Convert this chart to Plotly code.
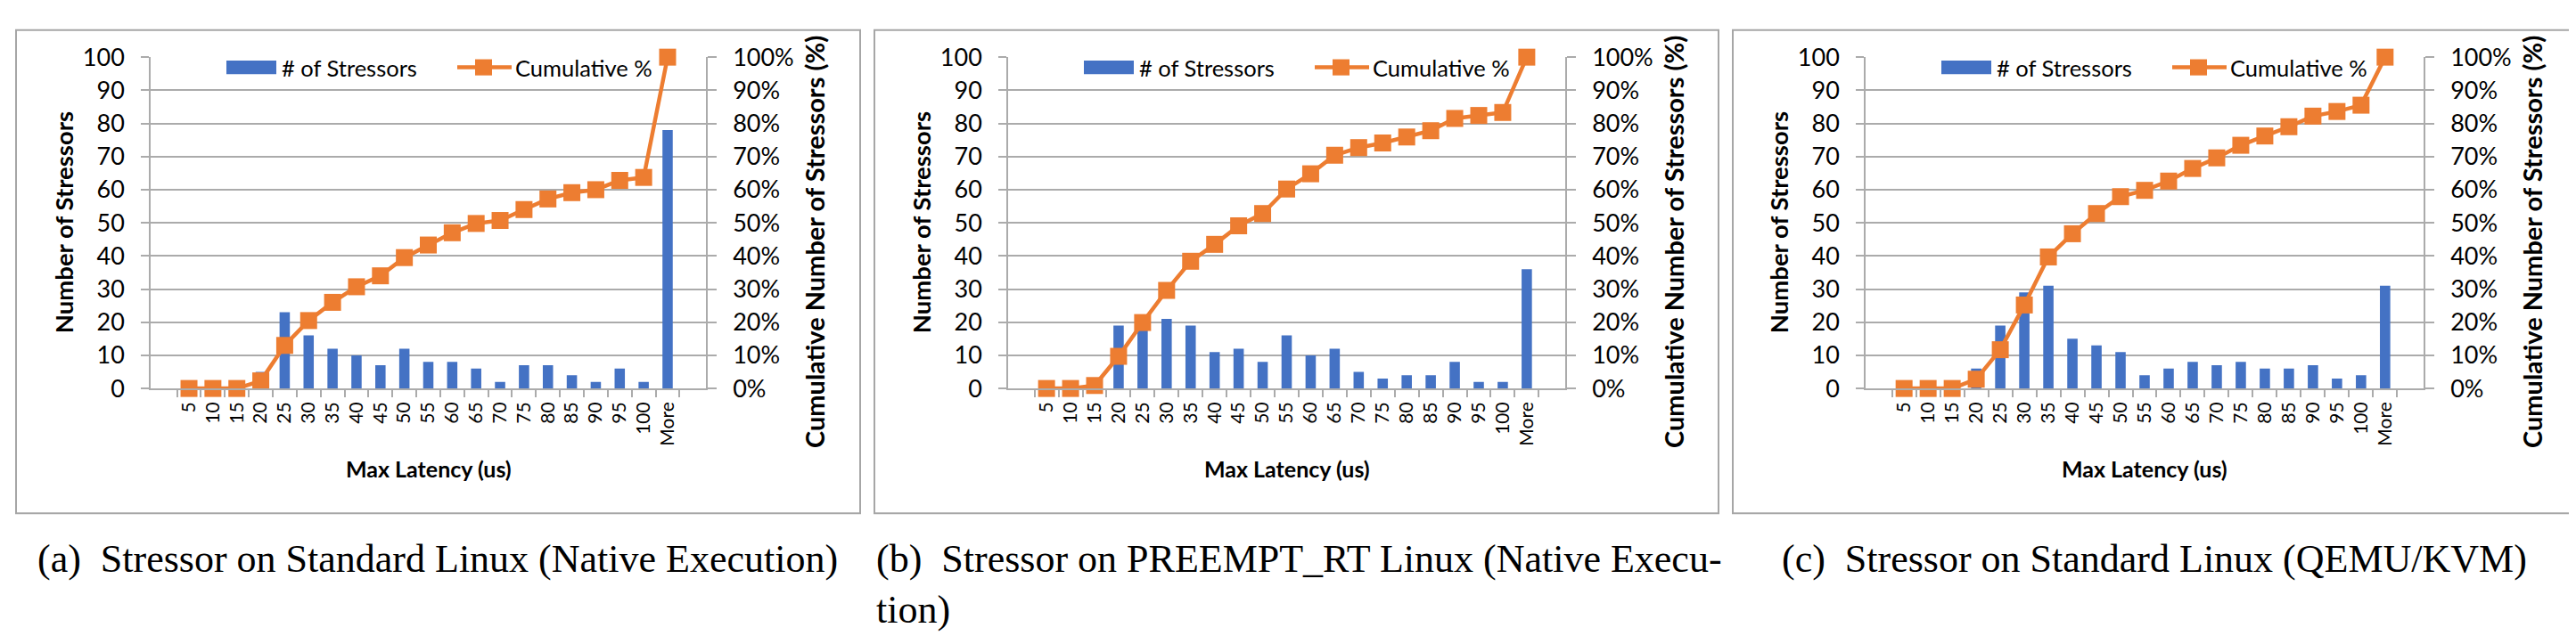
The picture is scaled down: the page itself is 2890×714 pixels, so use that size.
import plotly.graph_objects as go

# ---------------- data ----------------
categories = ["5", "10", "15", "20", "25", "30", "35", "40", "45", "50", "55",
              "60", "65", "70", "75", "80", "85", "90", "95", "100", "More"]

a_counts = [0, 0, 0, 5, 23, 16, 12, 10, 7, 12, 8, 8, 6, 2, 7, 7, 4, 2, 6, 2, 78]
a_cum = [0, 0, 0, 2.3, 13.0, 20.5, 26.0, 30.7, 34.0, 39.5, 43.3, 47.0, 49.8,
         50.7, 54.0, 57.2, 59.1, 60.0, 62.8, 63.7, 100]

b_counts = [0, 0, 2, 19, 22, 21, 19, 11, 12, 8, 16, 10, 12, 5, 3, 4, 4, 8, 2, 2, 36]
b_cum = [0, 0, 0.9, 9.7, 19.9, 29.6, 38.4, 43.5, 49.1, 52.8, 60.2, 64.8, 70.4,
         72.7, 74.1, 75.9, 77.8, 81.5, 82.4, 83.3, 100]

c_counts = [0, 0, 0, 6, 19, 29, 31, 15, 13, 11, 4, 6, 8, 7, 8, 6, 6, 7, 3, 4, 31]
c_cum = [0, 0, 0, 2.8, 11.7, 25.2, 39.7, 46.7, 52.8, 57.9, 59.8, 62.6, 66.4,
         69.6, 73.4, 76.2, 79.0, 82.2, 83.6, 85.5, 100]

y_ticks = [0, 10, 20, 30, 40, 50, 60, 70, 80, 90, 100]
y_ticktext = ["0", "10", "20", "30", "40", "50", "60", "70", "80", "90", "100"]
y2_ticktext = ["0%", "10%", "20%", "30%", "40%", "50%", "60%", "70%", "80%", "90%", "100%"]
bar_name = "# of Stressors"
line_name = "Cumulative %"
x_title = "Max Latency (us)"
y_title = "Number of Stressors"
y2_title = "Cumulative Number of Stressors (%)"
captions = [
    "(a)\u00a0\u00a0Stressor on Standard Linux (Native Execution)",
    "(b)\u00a0\u00a0Stressor on PREEMPT_RT Linux (Native Execu-<br>tion)",
    "(c)\u00a0\u00a0Stressor on Standard Linux (QEMU/KVM)",
]

# ---------------- style / layout ----------------
W, H = 2890, 714
BLUE = "#4472C4"
ORANGE = "#ED7D31"
GRID = "#ABABAB"
BORDER = "#A6A6A6"
FONT = "Lato"
SERIF = "Liberation Serif"


def px(x):
    return x / W


def py(y):
    return 1 - y / H


PLOT_TOP, PLOT_BOT = 40, 430
panels = [
    dict(counts=a_counts, cum=a_cum, box=(10, 957), plot=(161, 784)),
    dict(counts=b_counts, cum=b_cum, box=(973, 1920), plot=(1123, 1748)),
    dict(counts=c_counts, cum=c_cum, box=(1936, 2882), plot=(2085, 2711)),
]

fig = go.Figure()
layout = dict(
    width=W, height=H,
    margin=dict(l=0, r=0, t=0, b=0),
    paper_bgcolor="white", plot_bgcolor="white",
    bargap=0.57,
    showlegend=False,
    font=dict(family=FONT, color="black"),
    shapes=[], annotations=[],
)

for i, p in enumerate(panels):
    n = i + 1
    xk = "x" if n == 1 else f"x{n}"
    yl = "y" if n == 1 else f"y{2 * n - 1}"
    yr = f"y{2 * n}"
    xname = "xaxis" if n == 1 else f"xaxis{n}"
    ylname = "yaxis" if n == 1 else f"yaxis{2 * n - 1}"
    yrname = f"yaxis{2 * n}"

    fig.add_trace(go.Bar(x=categories, y=p["counts"], name=bar_name,
                         xaxis=xk, yaxis=yl, marker=dict(color=BLUE, line=dict(width=0))))
    fig.add_trace(go.Scatter(x=categories, y=p["cum"], name=line_name,
                             xaxis=xk, yaxis=yr, mode="lines+markers",
                             line=dict(color=ORANGE, width=4.5),
                             marker=dict(symbol="square", size=19, color=ORANGE),
                             cliponaxis=False))

    x0, x1 = p["plot"]
    dom_x = [px(x0), px(x1)]
    dom_y = [py(PLOT_BOT), py(PLOT_TOP)]

    layout[xname] = dict(
        domain=dom_x, anchor=yl, type="category",
        tickangle=-90, tickfont=dict(size=21, family=FONT, color="black"),
        ticks="outside", tickson="boundaries", ticklen=8, tickwidth=1.5, tickcolor=GRID,
        showline=True, linecolor=GRID, linewidth=1.5, showgrid=False,
        ticklabelstandoff=5,
    )
    layout[ylname] = dict(
        domain=dom_y, anchor=xk, range=[0, 100], tickmode="array",
        tickvals=y_ticks, ticktext=y_ticktext,
        showgrid=True, gridcolor=GRID, gridwidth=1.5, zeroline=False,
        showline=True, linecolor=GRID, linewidth=1.5,
        ticks="outside", ticklen=9, tickwidth=1.5, tickcolor=GRID,
        tickfont=dict(size=27, family=FONT, color="black"), ticklabelstandoff=13,
    )
    layout[yrname] = dict(
        overlaying=yl, side="right", anchor=xk, range=[0, 100], tickmode="array",
        tickvals=y_ticks, ticktext=y2_ticktext,
        showgrid=False, zeroline=False,
        showline=True, linecolor=GRID, linewidth=1.5,
        ticks="outside", ticklen=10, tickwidth=1.5, tickcolor=GRID,
        tickfont=dict(size=27, family=FONT, color="black"), ticklabelstandoff=13,
    )

    # panel border
    bx0, bx1 = p["box"]
    layout["shapes"].append(dict(type="rect", xref="paper", yref="paper",
                                 x0=px(bx0), x1=px(bx1), y0=py(577), y1=py(8),
                                 line=dict(color=BORDER, width=2), fillcolor="rgba(0,0,0,0)"))

    # custom legend
    layout["shapes"].append(dict(type="rect", xref="paper", yref="paper",
                                 x0=px(x0 + 85), x1=px(x0 + 141), y0=py(60), y1=py(44),
                                 line=dict(width=0), fillcolor=BLUE))
    layout["annotations"].append(dict(xref="paper", yref="paper", x=px(x0 + 145), y=py(52),
                                      xanchor="left", yanchor="middle", showarrow=False,
                                      text=bar_name, font=dict(size=25.5, family=FONT)))
    layout["shapes"].append(dict(type="line", xref="paper", yref="paper",
                                 x0=px(x0 + 344), x1=px(x0 + 405), y0=py(52), y1=py(52),
                                 line=dict(color=ORANGE, width=4.5)))
    layout["shapes"].append(dict(type="rect", xref="paper", yref="paper",
                                 x0=px(x0 + 364), x1=px(x0 + 383), y0=py(61.5), y1=py(42.5),
                                 line=dict(width=0), fillcolor=ORANGE))
    layout["annotations"].append(dict(xref="paper", yref="paper", x=px(x0 + 407), y=py(52),
                                      xanchor="left", yanchor="middle", showarrow=False,
                                      text=line_name, font=dict(size=25.5, family=FONT)))

    # axis titles
    layout["annotations"].append(dict(xref="paper", yref="paper", x=px(x0 - 98), y=py(235),
                                      xanchor="center", yanchor="middle", showarrow=False,
                                      textangle=-90, text=f"<b>{y_title}</b>",
                                      font=dict(size=27.5, family=FONT)))
    layout["annotations"].append(dict(xref="paper", yref="paper", x=px(x1 + 121), y=py(258),
                                      xanchor="center", yanchor="middle", showarrow=False,
                                      textangle=-90, text=f"<b>{y2_title}</b>",
                                      font=dict(size=29, family=FONT)))
    layout["annotations"].append(dict(xref="paper", yref="paper", x=px((x0 + x1) / 2), y=py(524),
                                      xanchor="center", yanchor="middle", showarrow=False,
                                      text=f"<b>{x_title}</b>",
                                      font=dict(size=25, family=FONT)))

# captions
layout["annotations"].append(dict(xref="paper", yref="paper", x=px(483), y=py(603),
                                  xanchor="center", yanchor="top", showarrow=False,
                                  text=captions[0], font=dict(size=44, family=SERIF)))
layout["annotations"].append(dict(xref="paper", yref="paper", x=px(973), y=py(603),
                                  xanchor="left", yanchor="top", showarrow=False, align="left",
                                  text=captions[1], font=dict(size=44, family=SERIF)))
layout["annotations"].append(dict(xref="paper", yref="paper", x=px(2409), y=py(603),
                                  xanchor="center", yanchor="top", showarrow=False,
                                  text=captions[2], font=dict(size=44, family=SERIF)))

fig.update_layout(**layout)
fig.write_html("out.html")
